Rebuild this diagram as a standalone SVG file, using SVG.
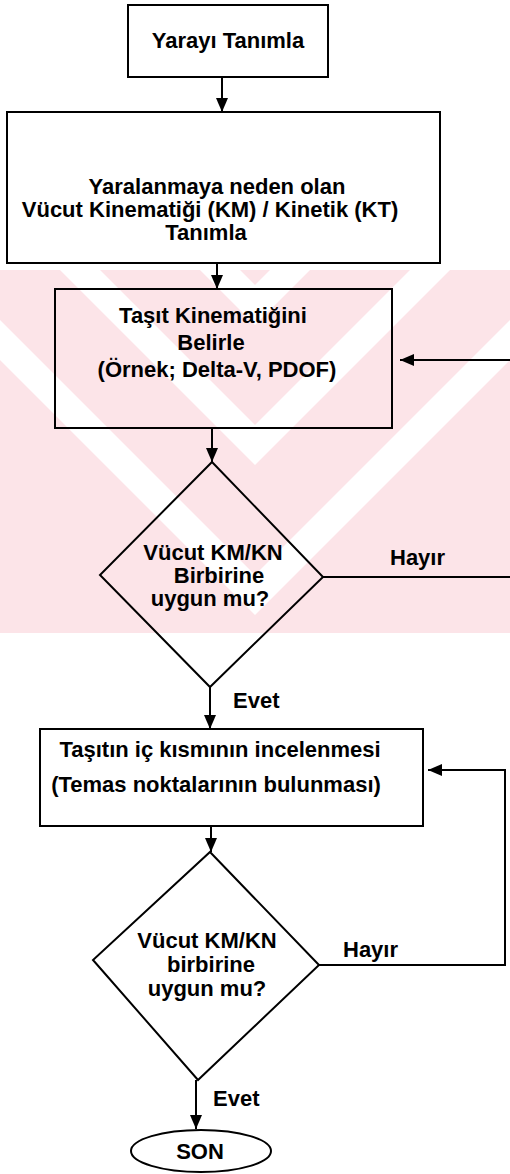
<svg xmlns="http://www.w3.org/2000/svg" width="510" height="1174" viewBox="0 0 510 1174">
<defs>
<marker id="ah" viewBox="0 0 14 12" refX="14" refY="6" markerWidth="14" markerHeight="12" markerUnits="userSpaceOnUse" orient="auto"><path d="M0,0 L14,6 L0,12 z" fill="#000"/></marker>
<clipPath id="wmL"><rect x="0" y="270" width="255" height="363"/></clipPath>
<clipPath id="wmR"><rect x="255" y="270" width="255" height="363"/></clipPath>
</defs>
<style>
.box{fill:none;stroke:#000;stroke-width:2}
.t{font-family:"Liberation Sans",Arial,sans-serif;font-weight:bold;font-size:22px;fill:#000}
.c{text-anchor:middle}
.con{fill:none;stroke:#000;stroke-width:2;marker-end:url(#ah)}
.wmp{fill:#fce4e8}
.wms{fill:#ffffff}
</style>
<rect width="510" height="1174" fill="#fff"/>
<g id="watermark">
<rect class="wmp" x="0" y="270" width="510" height="363"/>
<g clip-path="url(#wmL)">
<polygon class="wms" points="60,270 100,270 463,633 423,633"/>
<polygon class="wms" points="-90,270 -50,270 313,633 273,633"/>
<polygon class="wms" points="200,270 240,270 603,633 563,633"/>
</g>
<g clip-path="url(#wmR)">
<polygon class="wms" points="450,270 410,270 47,633 87,633"/>
<polygon class="wms" points="600,270 560,270 197,633 237,633"/>
<polygon class="wms" points="310,270 270,270 -93,633 -53,633"/>
</g>
</g>
<g id="connectors">
<path class="con" d="M222,77 V112"/>
<path class="con" d="M217,263 V289"/>
<path class="con" d="M212,428 V462"/>
<path class="con" d="M210,687 V729"/>
<path class="con" d="M211,826 V852"/>
<path class="con" d="M196,1080 V1129"/>
<path class="con" d="M323,577 H513 V360 H400"/>
<path class="con" d="M319,965 H505 V770 H428"/>
<text class="t" x="390" y="565">Hayır</text>
<text class="t" x="233" y="708">Evet</text>
<text class="t" x="343" y="957">Hayır</text>
<text class="t" x="213" y="1106">Evet</text>
</g>
<g id="n1">
<rect class="box" x="128" y="5" width="200" height="72"/>
<text class="t c" x="228" y="48" font-size="24">Yarayı Tanımla</text>
</g>
<g id="n2">
<rect class="box" x="7" y="112" width="433" height="151"/>
<text class="t c" x="217" y="194">Yaralanmaya neden olan</text>
<text class="t c" x="210" y="217">Vücut Kinematiği (KM) / Kinetik (KT)</text>
<text class="t c" x="206" y="240">Tanımla</text>
</g>
<g id="n3">
<rect class="box" x="55" y="289" width="337" height="139"/>
<text class="t c" x="213" y="323">Taşıt Kinematiğini</text>
<text class="t c" x="211" y="350">Belirle</text>
<text class="t c" x="217" y="377">(Örnek; Delta-V, PDOF)</text>
</g>
<g id="d1">
<polygon class="box" points="212,462 323,577 210,687 100,575"/>
<text class="t c" x="213" y="560">Vücut KM/KN</text>
<text class="t c" x="219" y="583">Birbirine</text>
<text class="t c" x="210" y="606">uygun mu?</text>
</g>
<g id="n4">
<rect class="box" x="40" y="729" width="383" height="97"/>
<text class="t c" x="220" y="757">Taşıtın iç kısmının incelenmesi</text>
<text class="t c" x="216" y="792">(Temas noktalarının bulunması)</text>
</g>
<g id="d2">
<polygon class="box" points="210,852 319,965 198,1080 93,960"/>
<text class="t c" x="207" y="948">Vücut KM/KN</text>
<text class="t c" x="211" y="972">birbirine</text>
<text class="t c" x="207" y="996">uygun mu?</text>
</g>
<g id="son">
<ellipse class="box" cx="201" cy="1151" rx="70" ry="21"/>
<text class="t c" x="200" y="1159" font-size="25">SON</text>
</g>
</svg>
